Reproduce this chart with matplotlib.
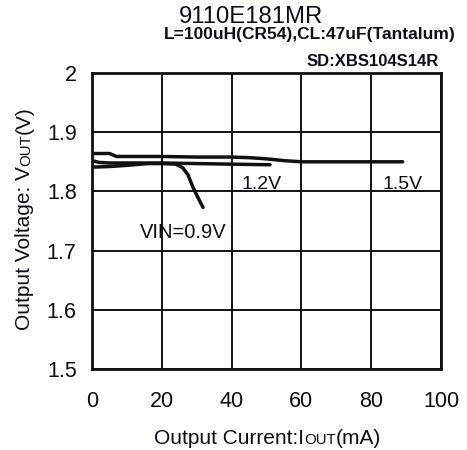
import matplotlib
matplotlib.use("Agg")
import matplotlib.pyplot as plt

plt.rcParams['font.family'] = ['Liberation Sans', 'DejaVu Sans']

# Data
x_15 = [0, 5, 7, 10, 20, 30, 40, 45, 50, 55, 60, 70, 80, 89]
y_15 = [1.864, 1.864, 1.859, 1.859, 1.859, 1.858, 1.858, 1.857, 1.855, 1.852, 1.850, 1.850, 1.850, 1.850]
x_12 = [0, 2, 5, 10, 20, 30, 40, 51]
y_12 = [1.852, 1.849, 1.848, 1.848, 1.848, 1.847, 1.846, 1.845]
x_09 = [0, 5, 10, 16, 20, 24, 26, 27.5, 29, 30.5, 31.8]
y_09 = [1.841, 1.842, 1.844, 1.847, 1.847, 1.846, 1.840, 1.828, 1.806, 1.788, 1.773]
x_ticks = [0, 20, 40, 60, 80, 100]
y_ticks = [1.5, 1.6, 1.7, 1.8, 1.9, 2.0]
y_tick_labels = ['1.5', '1.6', '1.7', '1.8', '1.9', '2']

fig = plt.figure(figsize=(4.67, 4.5), dpi=100)
ax = fig.add_axes([92/467, 1-369/450, (441-92)/467, (369-73)/450])

lc = '#111111'
for xs, ys in [(x_15, y_15), (x_12, y_12), (x_09, y_09)]:
    ax.plot(xs, ys, color=lc, lw=2.5, solid_capstyle='round', solid_joinstyle='round', zorder=3)

ax.set_xlim(0, 100)
ax.set_ylim(1.5, 2.0)
ax.set_xticks(x_ticks)
ax.set_yticks(y_ticks)
ax.set_yticklabels(y_tick_labels)
ax.grid(True, color='#111111', lw=1.4)
ax.tick_params(length=0, labelsize=15.5, colors='#0d0d0d')
ax.tick_params(axis='x', pad=16)
ax.tick_params(axis='y', pad=11)
for s in ax.spines.values():
    s.set_linewidth(2)
    s.set_color('#111111')

tc = '#0d0d1a'
ax.text(48.5, 1.811, '1.2V', fontsize=14, color=tc, ha='center', va='center')
ax.text(89, 1.811, '1.5V', fontsize=14, color=tc, ha='center', va='center')
ax.text(26, 1.731, 'VIN=0.9V', fontsize=14.5, color=tc, ha='center', va='center')

# Titles
fig.text(251/467, 1-17/450, '9110E181MR', fontsize=17.2, color=tc, ha='center', va='center')
fig.text(310/467, 1-35/450, 'L=100uH(CR54),CL:47uF(Tantalum)', fontsize=12.5, fontweight='bold',
         color=tc, ha='center', va='center')
fig.text(373/467, 1-62/450, 'SD:XBS104S14R', fontsize=12, fontweight='bold',
         color=tc, ha='center', va='center')

# Axis labels with small-caps "OUT"
fsz = 15
t1 = fig.text(0, 0, 'Output Current:I', fontsize=fsz, color=tc, ha='left', va='baseline')
t2 = fig.text(0, 0, 'OUT', fontsize=fsz*0.72, color=tc, ha='left', va='baseline')
t3 = fig.text(0, 0, '(mA)', fontsize=fsz, color=tc, ha='left', va='baseline')
fig.canvas.draw()
r = fig.canvas.get_renderer()
w1 = t1.get_window_extent(r).width
w2 = t2.get_window_extent(r).width
w3 = t3.get_window_extent(r).width
total = w1 + w2 + w3
cx = 267.5
base_y = 450 - 444
x0 = cx - total/2
t1.set_position((x0/467, base_y/450))
t2.set_position(((x0+w1)/467, base_y/450))
t3.set_position(((x0+w1+w2)/467, base_y/450))

# y label rotated
s1 = fig.text(0, 0, 'Output Voltage: V', fontsize=fsz, color=tc, rotation=90, ha='left', va='baseline', rotation_mode='anchor')
s2 = fig.text(0, 0, 'OUT', fontsize=fsz*0.72, color=tc, rotation=90, ha='left', va='baseline', rotation_mode='anchor')
s3 = fig.text(0, 0, '(V)', fontsize=fsz, color=tc, rotation=90, ha='left', va='baseline', rotation_mode='anchor')
fig.canvas.draw()
h1 = s1.get_window_extent(r).height
h2 = s2.get_window_extent(r).height
h3 = s3.get_window_extent(r).height
totalh = h1 + h2 + h3
cy = 450 - 218
base_x = 30
y0 = cy - totalh/2
s1.set_position((base_x/467, y0/450))
s2.set_position((base_x/467, (y0+h1)/450))
s3.set_position((base_x/467, (y0+h1+h2)/450))

fig.savefig('out.png', dpi=100)
